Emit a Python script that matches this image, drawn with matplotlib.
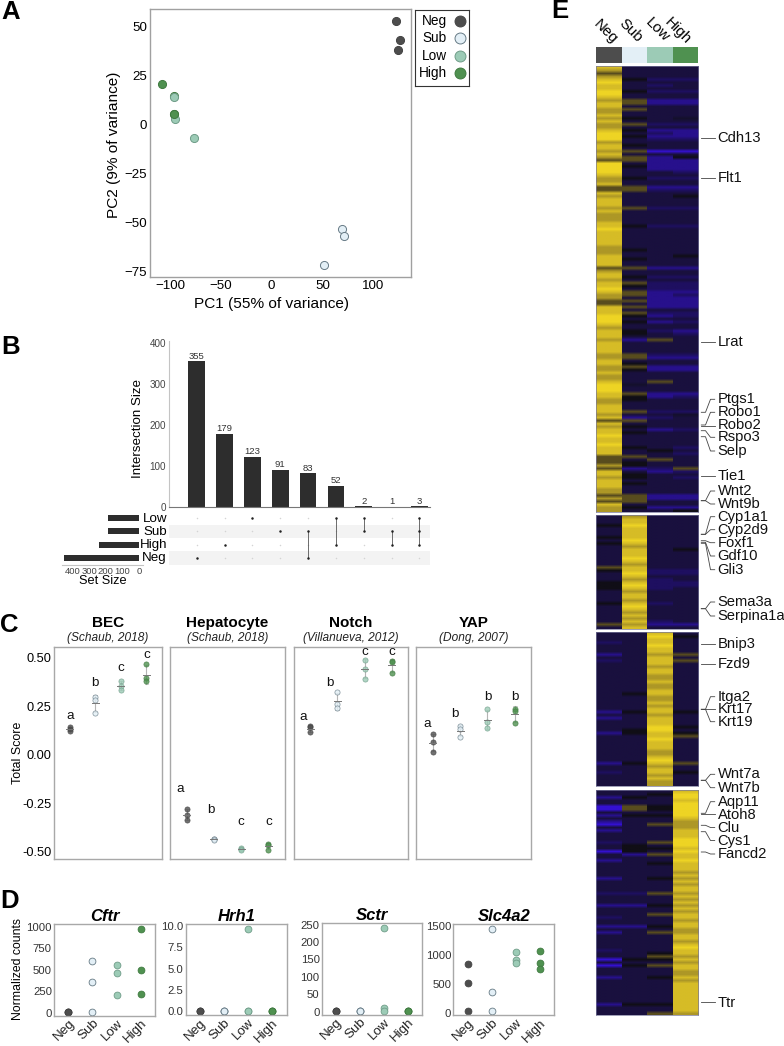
"""Multi-panel figure: PCA, UpSet plot, signature scores, gene counts, heatmap."""
import numpy as np
import matplotlib

matplotlib.use("Agg")
import matplotlib.pyplot as plt
from matplotlib.colors import ListedColormap

W, H = 784, 1046

plt.rcParams["font.family"] = ["Liberation Sans", "DejaVu Sans"]

GROUPS = ["Neg", "Sub", "Low", "High"]
COLORS = ["#4d4d4d", "#e3eff6", "#9ccbb6", "#4f9150"]
EDGES = ["#444444", "#667a85", "#6f9c88", "#3f7a40"]

# --- panel A: PCA ---------------------------------------------------------
PCA_X = [[122.6, 126.2, 124.3], [69.2, 71.1, 51.8], [-96.0, -95.4, -77.0], [-108.5, -96.7, -96.0]]
PCA_Y = [[52.7, 43.0, 38.1], [-53.6, -57.0, -72.0], [13.8, 2.6, -6.8], [20.6, 14.6, 5.1]]
PCA_XTICKS = [-100, -50, 0, 50, 100]
PCA_YTICKS = [-75, -50, -25, 0, 25, 50]

# --- panel B: UpSet -------------------------------------------------------
INTERSECT_SIZE = [355, 179, 123, 91, 83, 52, 2, 1, 3]
INTERSECT_TICKS = [0, 100, 200, 300, 400]
SET_NAMES = ["Low", "Sub", "High", "Neg"]
SET_SIZE = [185, 185, 240, 450]
SET_TICKS = [0, 100, 200, 300, 400]
# which rows of SET_NAMES belong to each intersection column
MEMBERS = [[3], [2], [0], [1], [1, 3], [0, 2], [0, 1], [1, 2], [0, 1, 2]]

# --- panel C: signature scores -------------------------------------------
SCORE_TITLES = ["BEC", "Hepatocyte", "Notch", "YAP"]
SCORE_REFS = ["(Schaub, 2018)", "(Schaub, 2018)", "(Villanueva, 2012)", "(Dong, 2007)"]
BEC = [[0.143, 0.131, 0.122], [0.297, 0.283, 0.217], [0.379, 0.357, 0.334], [0.469, 0.395, 0.379]]
HEPATOCYTE = [[-0.283, -0.312, -0.340], [-0.436, -0.438, -0.440], [-0.484, -0.490, -0.495], [-0.462, -0.467, -0.491]]
NOTCH = [[0.147, 0.141, 0.117], [0.326, 0.262, 0.240], [0.491, 0.445, 0.393], [0.484, 0.481, 0.424]]
YAP = [[0.105, 0.064, 0.016], [0.150, 0.131, 0.091], [0.236, 0.169, 0.138], [0.238, 0.228, 0.162]]
SCORE_LETTERS = [list("abcc"), list("abcc"), list("abcc"), list("abbb")]
LETTER_Y = [[0.202, 0.369, 0.449, 0.514], [-0.176, -0.284, -0.350, -0.350], [0.193, 0.369, 0.531, 0.531], [0.157, 0.210, 0.297, 0.297]]
LETTER_DX = [[0, 0, 0, 0], [-0.23, -0.11, 0, 0], [-0.27, -0.26, 0, 0], [-0.21, -0.20, 0, 0]]
SCORE_TICKS = [-0.50, -0.25, 0.0, 0.25, 0.50]

# --- panel D: normalized counts ------------------------------------------
CFTR = [[4, 4, 4], [600, 357, 4], [558, 461, 202], [969, 496, 221]]
HRH1 = [[0, 0, 0], [0, 0, 0], [9.7, 0, 0], [0, 0, 0]]
SCTR = [[2, 2, 2], [2, 2, 2], [241, 11, 2], [2, 2, 2]]
SLC4A2 = [[847, 527, 34], [1454, 366, 34], [1047, 916, 864], [1065, 870, 767]]
CFTR_TICKS = [0, 250, 500, 750, 1000]
HRH1_TICKS = [0.0, 2.5, 5.0, 7.5, 10.0]
SCTR_TICKS = [0, 50, 100, 150, 200, 250]
SLC4A2_TICKS = [0, 500, 1000, 1500]

# --- panel E: heatmap, one token per band, digits Neg/Sub/Low/High --------
HEAT_1 = """8333 7333 6333 7333 8522 9333 8323 8333 9522 9333 8333 7611 8611 8333 7633 7333 8333 7534 8333 7622
7333 8511 9321 9511 9322 7333 8533 8333 7600 8333 7615 6611 9311 9511 9311 9332 8333 7522 7333 8333
6611 6622 8333 7335 8333 8333 8333 7622 8333 7333 7333 7333 8333 8522 9333 8333 8333 8333 8333 8333
7333 7533 7333 8335 8533 8333 8333 6611 7333 8333 8522 7333 8622 8522 9322
8611 7612 7311 6611 6311 8611 8333 8622 9512 9333 9512 8333 7333 8521 8532 8333 7163 8333 8333 8333
8333 7622 7611 8333 8533 7611 7511 8333 7333 7333 8363 9433 9333 9333 8611 8512 7533 7333 8333 8333
8622 7334 8123 6633 8333 7533 8312 8533 9333 8333 8333 9333 8532 8353 8332 6633 6363 6533 7533 6126
8312 8533 7532 8333 8533 8333 7333 7333 6611 7611 6633 8333 7511 7335""".split()
HEAT_2 = """3733 3833 3833 5933 3833 3833 3833 5833 3933 5833 3733 3835 3833 3833 3933 3833 3733 6833 5822 3922
3833 3723 5822 5922 5823 3733 3833 3833 3733 5823 3933 3833 3733 3833 3733 3823 6711 3833""".split()
HEAT_3 = """3383 3395 3383 2383 3393 3383 3383 1376 3383 2386 3383 3373 3383 3383 3373 3373 3383 3373 3373 3383
3583 3373 3373 3383 3373 3383 1585 3373 1383 3383 3383 3395 3593 1585 3386 3393 3383 3383 3383 3373
3373 3383 3393 1586 3373 3383 2385 3373 3383 3373 3373""".split()
HEAT_4 = """3338 3359 1539 3338 3339 0659 0659 3339 1559 3338 1337 0367 3337 1338 3338 3338 3339 2369 3539 3558
0539 3168 3338 1339 3358 3338 3338 3337 3338 1357 3338 3337 3338 3338 2267 3338 3337 3338 1157 3338
3337 3368 2338 3337 3338 1158 3337 1367 3338 3338 3337 3338 3339 2338 3358 3367 0558 3337 0568 3338
3337 3337 1358 3337 3338 3338 3338 3338 3338 3338 3338 1558 3338 3338 3367""".split()
HEAT_LEVELS = ["#3410d0", "#27108c", "#1e0f60", "#19103e", "#14102c", "#100e16",
               "#584c1e", "#ad9726", "#d6bc26", "#eed424"]
GENES = ["Cdh13", "Flt1", "Lrat", "Ptgs1", "Robo1", "Robo2", "Rspo3", "Selp", "Tie1", "Wnt2", "Wnt9b",
         "Cyp1a1", "Cyp2d9", "Foxf1", "Gdf10", "Gli3", "Sema3a", "Serpina1a", "Bnip3", "Fzd9",
         "Itga2", "Krt17", "Krt19", "Wnt7a", "Wnt7b", "Aqp11", "Atoh8", "Clu", "Cys1", "Fancd2", "Ttr"]
GENE_Y = [137.7, 177.7, 342, 399.3, 412.3, 425, 437.3, 451, 475.7, 491, 504,
          516.7, 529.7, 542.7, 556, 569.7, 602, 616, 644.3, 664.3,
          696.7, 709.3, 721.7, 774.3, 787.7, 801.7, 815, 827.5, 840.5, 854, 1002.7]
GENE_SRC = [137.7, 177.7, 342, 412.3, 425, 425.7, 430.7, 436.7, 475.7, 500.7, 500.7,
            534.3, 534.3, 540.7, 542.3, 543.3, 608.7, 608.7, 644, 664.3,
            709.3, 709.3, 709.3, 780.3, 780.3, 813.3, 814.3, 825.3, 831.7, 852, 1002]


def px_axes(x0, y0, x1, y1):
    return fig.add_axes([x0 / W, 1 - y1 / H, (x1 - x0) / W, (y1 - y0) / H])


def box_style(ax, color="#a0a0a0", lw=1.0):
    for s in ax.spines.values():
        s.set_color(color)
        s.set_linewidth(lw)
    ax.tick_params(length=0)


def score_panel(ax, values, letters, letter_y, letter_dx):
    for i, vals in enumerate(values):
        m = np.mean(vals)
        sd = np.std(vals, ddof=1)
        ax.plot([i, i], [m - sd, m + sd], color="#b5b5b5", lw=0.8, zorder=1)
        ax.plot([i - 0.07, i + 0.07], [m + sd, m + sd], color="#b5b5b5", lw=0.5, zorder=1)
        ax.plot([i - 0.07, i + 0.07], [m - sd, m - sd], color="#b5b5b5", lw=0.5, zorder=1)
        ax.scatter([i] * 3, vals, s=14, color=COLORS[i], edgecolor=EDGES[i], lw=0.5, alpha=0.8, zorder=2)
        ax.plot([i - 0.13, i + 0.13], [m, m], color="#777777", lw=0.7, zorder=3)
        ax.text(i + letter_dx[i], letter_y[i], letters[i], ha="center", va="center", fontsize=9.6, color="#111111")
    ax.set_xlim(-0.6, 3.6)
    ax.set_ylim(-0.541, 0.555)
    ax.set_xticks([])
    ax.set_yticks(SCORE_TICKS)
    ax.set_yticklabels([])


def count_panel(ax, values, title, ticks, ticklabels, ylim):
    for i, vals in enumerate(values):
        ax.scatter([i] * len(vals), vals, s=24, color=COLORS[i], edgecolor=EDGES[i], lw=0.6, zorder=2, clip_on=False)
    ax.set_xlim(-0.6, 3.6)
    ax.set_ylim(*ylim)
    ax.set_xticks(range(4))
    ax.set_xticklabels(GROUPS, rotation=45, ha="right", rotation_mode="anchor", fontsize=9.6, color="#222222")
    ax.set_yticks(ticks)
    ax.set_yticklabels(ticklabels, fontsize=8.2, color="#333333")
    ax.set_title(title, fontsize=12, fontweight="bold", style="italic", pad=1.5)
    box_style(ax, "#a8a8a8", 1.0)
    ax.tick_params(axis="x", pad=1)
    ax.tick_params(axis="y", pad=1.5)


fig = plt.figure(figsize=(W / 100, H / 100), dpi=100)
over = fig.add_axes([0, 0, 1, 1], zorder=10)
over.set_xlim(0, W)
over.set_ylim(H, 0)
over.axis("off")

for letter, x, y in [("A", 1, 12), ("B", 1, 347.5), ("C", 0, 624.5), ("D", 0, 900.5), ("E", 551, 11)]:
    over.text(x, y, letter, fontsize=18.5, fontweight="bold", ha="left", va="center", color="black")

# --- A ---
ax = px_axes(150, 9, 411, 277)
for i in range(4):
    ax.scatter(PCA_X[i], PCA_Y[i], s=34, color=COLORS[i], edgecolor=EDGES[i], lw=0.7, zorder=2 + (i == 3) * -1)
ax.scatter(PCA_X[3][2:], PCA_Y[3][2:], s=34, color=COLORS[3], edgecolor=EDGES[3], lw=0.7, zorder=3)
ax.set_xlim(-120, 137.4)
ax.set_ylim(-78, 59)
ax.set_xticks(PCA_XTICKS)
ax.set_yticks(PCA_YTICKS)
ax.tick_params(labelsize=9.6, pad=2)
box_style(ax, "#a0a0a0", 1.0)
over.text(272, 303.7, "PC1 (55% of variance)", fontsize=11.1, ha="center", va="center")
over.text(114, 145, "PC2 (9% of variance)", fontsize=11.1, rotation=90, ha="center", va="center")

leg = px_axes(415, 10, 469, 86)
leg.set_xlim(0, 54)
leg.set_ylim(4.229, -0.131)
leg.set_xticks([])
leg.set_yticks([])
for s in leg.spines.values():
    s.set_color("#333333")
    s.set_linewidth(0.8)
for i, g in enumerate(GROUPS):
    leg.scatter([45], [i + 0.5], s=62, color=COLORS[i], edgecolor=EDGES[i], lw=0.7)
    leg.text(32, i + 0.5, g, fontsize=9.8, ha="right", va="center")

# --- B ---
bar_ax = px_axes(169, 340.7, 430, 507.3)
xpos = np.arange(len(INTERSECT_SIZE))
bar_ax.bar(xpos, INTERSECT_SIZE, width=0.6, color="#2d2d2d")
for x, v in zip(xpos, INTERSECT_SIZE):
    bar_ax.text(x, v + 1, str(v), ha="center", va="bottom", fontsize=6.8, color="#333333")
bar_ax.set_xlim(-0.995, 8.38)
bar_ax.set_ylim(0, 405)
bar_ax.set_xticks([])
bar_ax.set_yticks(INTERSECT_TICKS)
bar_ax.tick_params(axis="y", length=0, labelsize=7.1, labelcolor="#444444", pad=2)
for s in ["top", "right"]:
    bar_ax.spines[s].set_visible(False)
bar_ax.spines["left"].set_color("#c4c4c4")
bar_ax.spines["bottom"].set_color("#777777")
over.text(138, 428.5, "Intersection Size", fontsize=9.6, rotation=90, ha="center", va="center")

mat = px_axes(169, 511.3, 430, 564.7)
mat.set_xlim(-0.995, 8.38)
mat.set_ylim(3.5, -0.5)
mat.axis("off")
for r in (1, 3):
    mat.axhspan(r - 0.5, r + 0.5, color="#f3f3f3", lw=0)
for c in xpos:
    mat.scatter([c] * 4, range(4), s=1.2, color="#d4d4d4", lw=0)
    mat.scatter([c] * len(MEMBERS[c]), MEMBERS[c], s=3.2, color="#222222", lw=0, zorder=3)
    if len(MEMBERS[c]) > 1:
        mat.plot([c, c], [min(MEMBERS[c]), max(MEMBERS[c])], color="#555555", lw=0.6, zorder=2)

for r, name in enumerate(SET_NAMES):
    over.text(167, 518.5 + 13.33 * r, name, ha="right", va="center", fontsize=9.6)

set_ax = px_axes(61.7, 511.3, 143.3, 564.7)
set_ax.barh(range(4), SET_SIZE, height=0.45, color="#2d2d2d")
set_ax.set_xlim(465, -24)
set_ax.set_ylim(3.5, -0.5)
set_ax.set_yticks([])
set_ax.set_xticks(SET_TICKS)
set_ax.tick_params(axis="x", length=0, labelsize=6.8, labelcolor="#444444", pad=1.5)
for s in ["top", "right", "left"]:
    set_ax.spines[s].set_visible(False)
set_ax.spines["bottom"].set_color("#c4c4c4")
over.text(102.7, 580.7, "Set Size", fontsize=9.2, ha="center", va="center")

# --- C ---
score_boxes = [(54.3, 161.7), (170.3, 284.7), (293.7, 408.3), (416.3, 531.3)]
score_data = [BEC, HEPATOCYTE, NOTCH, YAP]
for k, (x0, x1) in enumerate(score_boxes):
    ax = px_axes(x0, 647.3, x1, 859.3)
    score_panel(ax, score_data[k], SCORE_LETTERS[k], LETTER_Y[k], LETTER_DX[k])
    box_style(ax, "#a8a8a8", 1.0)
    if k == 0:
        ax.set_yticklabels(["-0.50", "-0.25", "0.00", "0.25", "0.50"], fontsize=9.2)
        ax.tick_params(axis="y", pad=2)
    over.text((x0 + x1) / 2, 622.7, SCORE_TITLES[k], fontsize=11, fontweight="bold", ha="center", va="center")
    over.text((x0 + x1) / 2, 637.7, SCORE_REFS[k], fontsize=8.6, style="italic", ha="center", va="center", color="#222222")
over.text(18.3, 753, "Total Score", fontsize=8.9, rotation=90, ha="center", va="center")

# --- D ---
ax = px_axes(54, 924.3, 155, 1016)
count_panel(ax, CFTR, "Cftr", CFTR_TICKS, CFTR_TICKS, (-39, 1027))
over.text(18, 969.5, "Normalized counts", fontsize=8.8, rotation=90, ha="center", va="center")
ax = px_axes(185.7, 924.3, 286.7, 1015.3)
count_panel(ax, HRH1, "Hrh1", HRH1_TICKS, [f"{t:.1f}" for t in HRH1_TICKS], (-0.47, 10.2))
ax = px_axes(321.7, 923.3, 422.3, 1015)
count_panel(ax, SCTR, "Sctr", SCTR_TICKS, SCTR_TICKS, (-9.6, 254))
ax = px_axes(453.3, 924, 554.3, 1015.3)
count_panel(ax, SLC4A2, "Slc4a2", SLC4A2_TICKS, SLC4A2_TICKS, (-34, 1534))

# --- E ---
cmap = ListedColormap(HEAT_LEVELS)
annot = px_axes(596.3, 47, 698.3, 63.3)
annot.pcolormesh(np.arange(5), [0, 1], [np.arange(4)], cmap=ListedColormap(COLORS), vmin=0, vmax=3)
annot.axis("off")
heat_boxes = [(HEAT_1, 66, 511.7), (HEAT_2, 515, 629), (HEAT_3, 632.3, 786.3), (HEAT_4, 790, 1014.7)]
for rows, y0, y1 in heat_boxes:
    ax = px_axes(596.3, y0, 698.3, y1)
    table = np.array([[int(c) for c in token] for token in rows])
    # blur along the rows only, each column gets its own image
    for c in range(4):
        ax.imshow(table[:, [c]], cmap=cmap, vmin=0, vmax=9, aspect="auto", interpolation="bilinear",
                  interpolation_stage="rgba", extent=(c, c + 1, len(rows), 0))
    ax.set_xlim(0, 4)
    ax.set_ylim(len(rows), 0)
    ax.set_xticks([])
    ax.set_yticks([])
    for s in ax.spines.values():
        s.set_color("#77779a")
        s.set_linewidth(0.5)

for g, ex, ey in zip(GROUPS, [615, 640, 666.7, 689], [41.7, 40, 40, 41.7]):
    over.text(ex, ey, g, rotation=-45, rotation_mode="anchor", ha="right", va="center", fontsize=10.8)

for name, y, src in zip(GENES, GENE_Y, GENE_SRC):
    if abs(y - src) < 1.5:
        over.plot([701.3, 714.7], [src, src], color="#444444", lw=0.6)
    else:
        over.plot([701.3, 705.5, 710.5, 714.7], [src, src, y, y], color="#444444", lw=0.6)
    over.text(717.7, y, name, fontsize=10.6, ha="left", va="center", color="#111111")

fig.savefig("out.png", dpi=100)
